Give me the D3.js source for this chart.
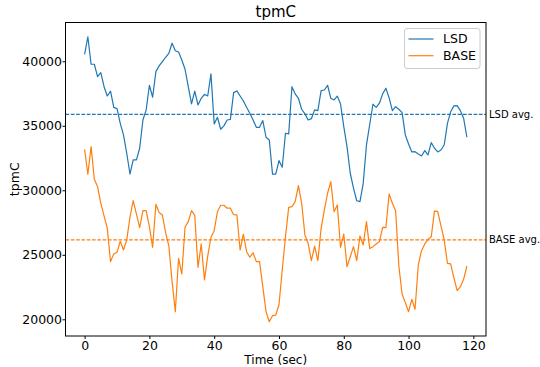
<!DOCTYPE html>
<html>
<head>
<meta charset="utf-8">
<script src="https://cdn.jsdelivr.net/npm/d3@7"></script>
<style>
  body { margin: 0; background: #fff; }
  svg { font-family: "DejaVu Sans", sans-serif; }
</style>
</head>
<body>
<div id="chart"></div>
<script>
// throughput per second
const lsd = [
  40540, 41900, 39770, 39770, 38810, 39120, 38030, 37310, 37680, 36430,
  36330, 35190, 34290, 32870, 31260, 32350, 32350, 33260, 35450, 36230,
  38140, 37210, 39200, 39640, 39970, 40310, 40620, 41400, 40820, 40720,
  40100, 39380, 38030, 36690, 37680, 36610, 37130, 37440, 37310, 39020,
  35140, 35660, 34730, 34990, 35450, 35500, 37570, 37700, 37310, 36920,
  36430, 35970, 35450, 34880, 34880, 35400, 34110, 33900, 31260, 31260,
  32300, 31780, 34420, 34370, 38030, 37470, 37130, 36280, 35920, 35450,
  35550, 36230, 36180, 37720, 37770, 38140, 37130, 37000, 37300, 36690,
  34930, 33380, 31320, 30160, 29190, 29120, 30540, 33500, 35100, 36670,
  36430, 36750, 37470, 37910, 37160, 36170, 36480, 36280, 36020, 34290,
  33590, 32970, 32990, 32820, 32660, 33070, 32740, 33690, 33260, 32970,
  33120, 33510, 35190, 36090, 36540, 36560, 36170, 35580, 34110
];
const base = [
  33180, 31240, 33380, 30850, 30280, 28990, 28010, 27050, 24470, 25060,
  25190, 26050, 25370, 26150, 27910, 29190, 28160, 27100, 28420, 28420,
  27180, 25580, 28910, 28270, 28090, 26710, 25680, 22920, 20590, 24730,
  23510, 27130, 27570, 28420, 28060, 24030, 25840, 23050, 24900, 26360,
  26870, 28340, 28840, 28840, 28610, 28610, 28110, 28090, 25370, 26610,
  25240, 24810, 25160, 24470, 24470, 22530, 20590, 19810, 20280, 20330,
  21130, 23820, 26400, 28680, 28730, 29120, 30360, 28990, 26540, 25890,
  24540, 25680, 24540, 27050, 28470, 29770, 30670, 28340, 28860, 25580,
  26610, 24080, 24850, 25630, 24540, 26460, 25760, 27570, 25480, 25630,
  25840, 26020, 27130, 27100, 29720, 28990, 28420, 24130, 21940, 21290,
  20590, 21550, 20780, 24210, 25320, 25840, 26200, 26400, 28400, 28340,
  27240, 26150, 24340, 24290, 23200, 22220, 22530, 23100, 24130
];
const seriesNames = ["LSD", "BASE"];
const seriesColors = ["#1f77b4", "#ff7f0e"];
const avgLabels = ["LSD avg.", "BASE avg."];
const xTicks = [0, 20, 40, 60, 80, 100, 120];
const yTicks = [20000, 25000, 30000, 35000, 40000];

const width = 540, height = 367;
const margin = { top: 22.5, right: 54, bottom: 31, left: 65.5 };
const plotW = width - margin.left - margin.right;
const plotH = height - margin.top - margin.bottom;

const svg = d3.select("#chart").append("svg")
  .attr("width", width)
  .attr("height", height);

const g = svg.append("g").attr("transform", `translate(${margin.left},${margin.top})`);

const all = lsd.concat(base);
const n = lsd.length;
const yMin = d3.min(all), yMax = d3.max(all);
const yPad = (yMax - yMin) * 0.05;
const xPad = (n - 1) * 0.05;

const x = d3.scaleLinear().domain([-xPad, n - 1 + xPad]).range([0, plotW]);
const y = d3.scaleLinear().domain([yMin - yPad, yMax + yPad]).range([plotH, 0]);

const line = d3.line().x((d, i) => x(i)).y(d => y(d));

[lsd, base].forEach((vals, k) => {
  g.append("path")
    .datum(vals)
    .attr("fill", "none")
    .attr("stroke", seriesColors[k])
    .attr("stroke-width", 1.2)
    .attr("stroke-linejoin", "round")
    .attr("d", line);
});

// average lines
[lsd, base].forEach((vals, k) => {
  const avg = d3.mean(vals);
  g.append("line")
    .attr("x1", 0).attr("x2", plotW)
    .attr("y1", y(avg)).attr("y2", y(avg))
    .attr("stroke", seriesColors[k])
    .attr("stroke-width", 1.2)
    .attr("stroke-dasharray", "3.7,1.6");
  g.append("text")
    .attr("x", plotW + 3)
    .attr("y", y(avg))
    .attr("dy", "0.35em")
    .attr("font-size", 10)
    .text(avgLabels[k]);
});

// axes
const xAxis = g.append("g")
  .attr("transform", `translate(0,${plotH})`)
  .call(d3.axisBottom(x).tickValues(xTicks).tickSize(3).tickPadding(2));
const yAxis = g.append("g")
  .call(d3.axisLeft(y).tickValues(yTicks).tickSize(3).tickPadding(0.5).tickFormat(d3.format("d")));
[xAxis, yAxis].forEach(a => {
  a.select(".domain").remove();
  a.selectAll("text").attr("font-size", 12.5).attr("fill", "#000").attr("font-family", "DejaVu Sans, sans-serif");
  a.selectAll("line").attr("stroke", "#000");
});

g.append("rect")
  .attr("width", plotW).attr("height", plotH)
  .attr("fill", "none").attr("stroke", "#000").attr("stroke-width", 1);

// titles
svg.append("text")
  .attr("x", margin.left + plotW / 2).attr("y", 17)
  .attr("text-anchor", "middle").attr("font-size", 15)
  .text("tpmC");
svg.append("text")
  .attr("x", margin.left + plotW / 2).attr("y", 363.5)
  .attr("text-anchor", "middle").attr("font-size", 12)
  .text("Time (sec)");
svg.append("text")
  .attr("transform", `translate(18.5,${margin.top + plotH / 2}) rotate(-90)`)
  .attr("text-anchor", "middle").attr("font-size", 12.5)
  .text("tpmC");

// legend
const lg = svg.append("g").attr("transform", "translate(404.5,28.5)");
lg.append("rect")
  .attr("width", 75.5).attr("height", 40).attr("rx", 2.5)
  .attr("fill", "#fff").attr("fill-opacity", 0.8)
  .attr("stroke", "#ccc").attr("stroke-width", 1);
seriesNames.forEach((name, k) => {
  const yy = 10.5 + k * 16.7;
  lg.append("line")
    .attr("x1", 4).attr("x2", 29).attr("y1", yy).attr("y2", yy)
    .attr("stroke", seriesColors[k]).attr("stroke-width", 1.2);
  lg.append("text")
    .attr("x", 38.5).attr("y", yy).attr("dy", "0.35em")
    .attr("font-size", 12.5)
    .text(name);
});
</script>
</body>
</html>
